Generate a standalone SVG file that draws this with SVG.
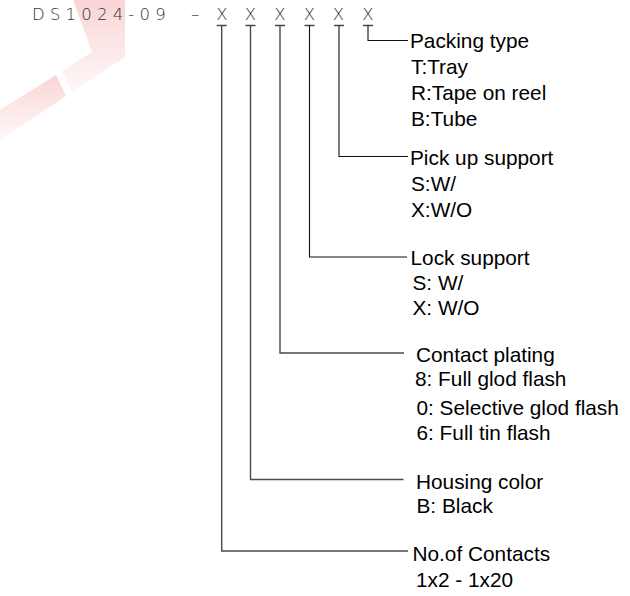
<svg xmlns="http://www.w3.org/2000/svg" width="630" height="596" viewBox="0 0 630 596">
  <style>
    .hdr { font-family: "DejaVu Sans", "Liberation Sans", sans-serif; font-weight: 200; font-size: 16.5px; fill: #333; }
    .lbl { font-family: "Liberation Sans", Arial, sans-serif; font-size: 20.8px; fill: #000; }
    .stem { fill: none; stroke: #4a4a4a; stroke-width: 1.4; }
    .dark { fill: none; stroke: #111; stroke-width: 1.1; }
  </style>
  <defs>
    <linearGradient id="wm" x1="0" y1="0" x2="0" y2="1">
      <stop offset="0" stop-color="#e53a3a" stop-opacity="0.22"/>
      <stop offset="1" stop-color="#f07070" stop-opacity="0.06"/>
    </linearGradient>
  </defs>
  <rect width="630" height="596" fill="#fff"/>
  <g id="watermark" fill="url(#wm)">
    <polygon points="73,0 125,0 125,57 72,92 62,71 92,52"/>
    <polygon points="56,75 66,96 0,140 0,110"/>
  </g>
  <g id="header">
    <text class="hdr" x="32" y="20" letter-spacing="5.2">DS1024-09</text>
    <text class="hdr" x="195" y="20" text-anchor="middle">–</text>
    <text class="hdr" x="222" y="20" text-anchor="middle">X</text>
    <text class="hdr" x="250.5" y="20" text-anchor="middle">X</text>
    <text class="hdr" x="280" y="20" text-anchor="middle">X</text>
    <text class="hdr" x="309.5" y="20" text-anchor="middle">X</text>
    <text class="hdr" x="338.5" y="20" text-anchor="middle">X</text>
    <text class="hdr" x="368" y="20" text-anchor="middle">X</text>
  </g>
  <g id="connectors">
    <path class="stem" d="M216.7 25.5h10 M245.5 25.5h10 M275 25.5h10 M304.5 25.5h10 M334 25.5h10 M363 25.5h10"/>
    <path class="stem" d="M221.7 25.5V551H408"/>
    <path class="stem" d="M250.5 25.5V479.5H403.5"/>
    <path class="stem" d="M280 25.5V353H404"/>
    <path class="dark" d="M309.5 25.5V257H407"/>
    <path class="dark" d="M339 25.5V156.5H408"/>
    <path class="dark" d="M368 25.5V40.5H408"/>
  </g>
  <g id="packing">
    <text class="lbl" x="410" y="48">Packing type</text>
    <text class="lbl" x="411" y="74">T:Tray</text>
    <text class="lbl" x="411" y="99.5">R:Tape on reel</text>
    <text class="lbl" x="411" y="126">B:Tube</text>
  </g>
  <g id="pickup">
    <text class="lbl" x="410" y="165">Pick up support</text>
    <text class="lbl" x="411" y="190.5">S:W/</text>
    <text class="lbl" x="411" y="216.5">X:W/O</text>
  </g>
  <g id="lock">
    <text class="lbl" x="410.5" y="265">Lock support</text>
    <text class="lbl" x="412.5" y="290">S: W/</text>
    <text class="lbl" x="412.5" y="315">X: W/O</text>
  </g>
  <g id="plating">
    <text class="lbl" x="416" y="362">Contact plating</text>
    <text class="lbl" x="415" y="386">8: Full glod flash</text>
    <text class="lbl" x="416.5" y="415">0: Selective glod flash</text>
    <text class="lbl" x="416.5" y="440">6: Full tin flash</text>
  </g>
  <g id="housing">
    <text class="lbl" x="416" y="489">Housing color</text>
    <text class="lbl" x="416.5" y="513">B: Black</text>
  </g>
  <g id="contacts">
    <text class="lbl" x="412.5" y="561">No.of Contacts</text>
    <text class="lbl" x="416" y="587">1x2 - 1x20</text>
  </g>
</svg>
